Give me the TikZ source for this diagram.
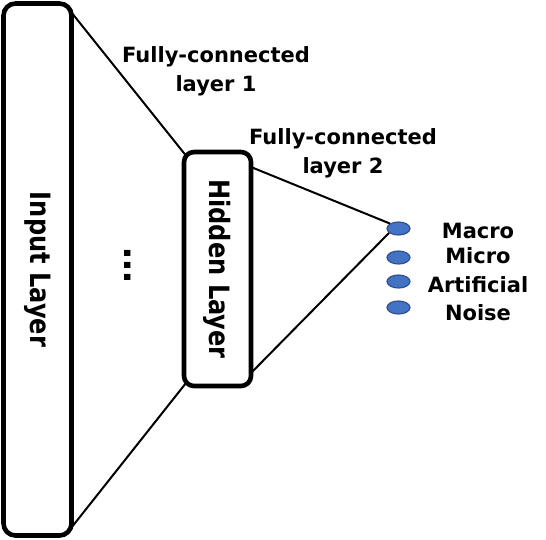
\documentclass[tikz,border=0pt]{standalone}
\usepackage{fontspec}
\newfontfamily\labelfont{DejaVu Sans}
\newfontfamily\dotsfont{Liberation Sans}
\definecolor{ClassFill}{RGB}{68,114,196}
\definecolor{ClassBorder}{RGB}{47,82,143}
\usetikzlibrary{shapes.geometric}
\tikzset{
    layer box/.style={
        draw=black, line width=4.6pt, rounded corners=#1,
        inner sep=0pt, outer sep=0pt,
        font=\labelfont\bfseries\fontsize{28}{28}\selectfont
    },
    layer box/.default=12pt,
    connector/.style={draw=black, line width=2pt},
    class dot/.style={
        ellipse, draw=ClassBorder, fill=ClassFill, line width=1.2pt,
        minimum width=23pt, minimum height=13pt, inner sep=0pt
    },
    fc label/.style={
        align=center, inner sep=0pt,
        font=\labelfont\bfseries\fontsize{21}{29}\selectfont
    },
    class label/.style={
        anchor=base, inner sep=0pt,
        font=\labelfont\bfseries\fontsize{21}{21}\selectfont
    }
}
\newcommand{\layertext}[1]{\rotatebox{-90}{\scalebox{0.86}[1]{#1}}}

\begin{document}
\begin{tikzpicture}[x=1pt, y=-1pt]

\useasboundingbox (0,0) rectangle (546,539);

% Capas
\node[layer box, minimum width=68pt, minimum height=532pt]
    (input) at (37.5,269.5) {\layertext{Input Layer}};
\node[layer box=10pt, minimum width=67pt, minimum height=234pt]
    (hidden) at (217.5,269) {\layertext{Hidden Layer}};

% Salidas
\node[class dot] (macro) at (398.5,228.5) {};
\node[class dot] (micro) at (398.5,257.5) {};
\node[class dot] (artificial) at (398.5,281.5) {};
\node[class dot] (noise) at (398.5,307.5) {};

% Conexiones
\draw[connector] ([yshift=-9pt]input.north east) -- ([shift={(1.5pt,-3pt)}]hidden.north west);
\draw[connector] ([yshift=8pt]input.south east) -- ([shift={(2pt,3pt)}]hidden.south west);
\draw[connector] ([yshift=-15pt]hidden.north east) -- (macro.150);
\draw[connector] ([yshift=13pt]hidden.south east) -- (macro.205);

% Textos
\node[inner sep=0pt, rotate=-90, font=\dotsfont\bfseries\fontsize{43}{43}\selectfont]
    (moreUnits) at (127.5,265.5) {...};
\node[fc label] (fcOne) at (216,71.5) {Fully-connected\\layer 1};
\node[fc label] (fcTwo) at (343,153.5) {Fully-connected\\layer 2};

\node[class label] (macroText) at (478,238) {Macro};
\node[class label] (microText) at (478,263) {Micro};
\node[class label] (artificialText) at (478,292) {Artificial};
\node[class label] (noiseText) at (478,320) {Noise};

\end{tikzpicture}
\end{document}
